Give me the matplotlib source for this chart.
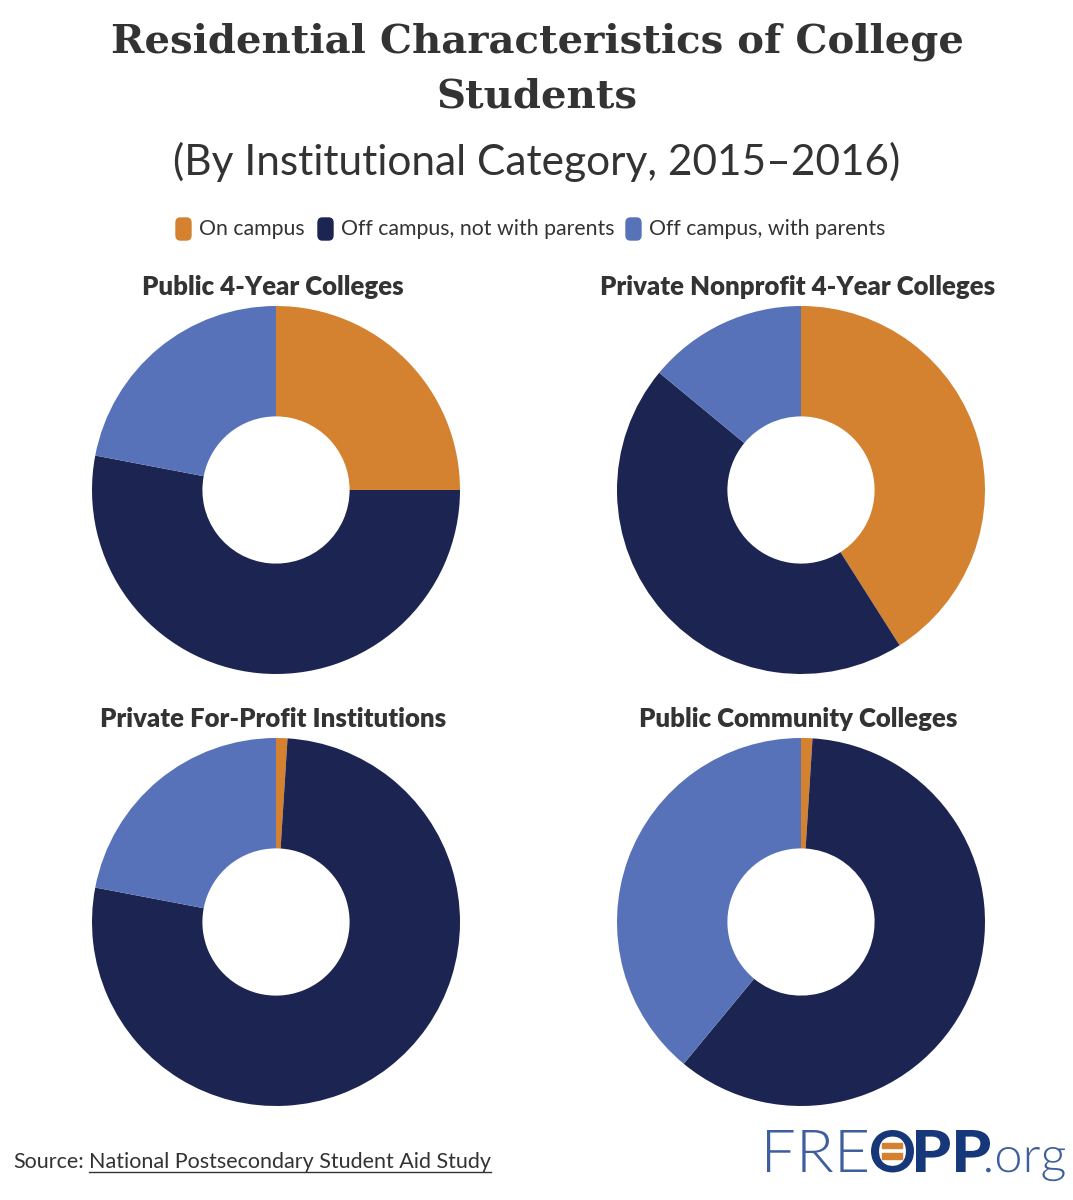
import matplotlib.pyplot as plt
from matplotlib.patches import FancyBboxPatch, PathPatch
from matplotlib.textpath import TextPath
from matplotlib.font_manager import FontProperties
from matplotlib.transforms import Affine2D, IdentityTransform

# data (percent of students)
categories = ['On campus', 'Off campus, not with parents', 'Off campus, with parents']
colors = ['#D4822F', '#1C2551', '#5872BA']
chart_titles = ['Public 4-Year Colleges', 'Private Nonprofit 4-Year Colleges',
                'Private For-Profit Institutions', 'Public Community Colleges']
public_4yr = [25, 53, 22]
private_nonprofit = [41, 45, 14]
private_forprofit = [1, 77, 22]
community = [1, 60, 39]

W, H = 1073, 1200
fig = plt.figure(figsize=(W / 100, H / 100), dpi=100)
txt = '#333333'

def fx(x):
    return x / W

def fy(y):
    return 1 - y / H

fig.text(fx(537), fy(42), 'Residential Characteristics of College', ha='center', va='center',
         fontsize=29, fontweight='bold', family='DejaVu Serif', color=txt)
fig.text(fx(537), fy(96), 'Students', ha='center', va='center',
         fontsize=29, fontweight='bold', family='DejaVu Serif', color=txt)
fig.text(fx(537), fy(162), '(By Institutional Category, 2015\u20132016)', ha='center', va='center',
         fontsize=30.5, family='Lato', color=txt)

# legend
leg_x = [176, 318, 626]
for i, lab in enumerate(categories):
    x0 = leg_x[i]
    fig.patches.append(FancyBboxPatch((fx(x0), fy(240)), fx(15), 22 / H,
                                      boxstyle='round,pad=0,rounding_size=0.004',
                                      transform=fig.transFigure, color=colors[i]))
    fig.text(fx(x0 + 23), fy(229), lab, ha='left', va='center', fontsize=15.3,
             family='Lato', color=txt)

datasets = [public_4yr, private_nonprofit, private_forprofit, community]
centers = [(276, 490), (801, 490), (276, 922), (801, 922)]
r = 184
for vals, (cx, cy), title in zip(datasets, centers, chart_titles):
    ax = fig.add_axes([fx(cx - r), fy(cy + r), fx(2 * r), 2 * r / H])
    ax.pie(vals, colors=colors, startangle=90, counterclock=False,
           wedgeprops=dict(width=0.6, linewidth=0))
    ax.set_xlim(-1, 1)
    ax.set_ylim(-1, 1)
    ax.set_aspect('equal')
    ax.axis('off')
    fig.text(fx(cx - 3), fy(cy - 203), title, ha='center', va='center', fontsize=18.5,
             fontweight='heavy', family='Lato', color=txt)

# source
fig.text(fx(13), fy(1162), 'Source:', ha='left', va='center', fontsize=15.5,
         family='Lato', color=txt)
fig.text(fx(89), fy(1162), 'National Postsecondary Student Aid Study', ha='left',
         va='center', fontsize=15.5, family='Lato', color=txt)
fig.lines.append(plt.Line2D([fx(89), fx(491)], [fy(1172), fy(1172)],
                            transform=fig.transFigure, color=txt, linewidth=1))

# logo, each piece fitted into its box (pixel coords from top-left)
def logo_piece(s, x0, x1, y_base, y_top, weight, color, family='Lato'):
    tp = TextPath((0, 0), s, size=100, prop=FontProperties(family=family, weight=weight))
    bb = tp.get_extents()
    sx = (x1 - x0) / bb.width
    sy = (y_base - y_top) / bb.y1
    tr = Affine2D().translate(-bb.x0, 0).scale(sx, sy).translate(x0, H - y_base)
    fig.patches.append(PathPatch(tr.transform_path(tp), transform=IdentityTransform(),
                                 color=color, lw=0))

logo_blue = '#3F5E9E'
logo_navy = '#16377A'
logo_piece('FRE', 767, 867, 1172, 1130, 300, logo_blue)
logo_piece('O', 871, 914, 1172, 1130, 'bold', logo_navy)
logo_piece('PP', 916, 990, 1172, 1130, 'black', logo_navy)
logo_piece('.org', 986, 1065, 1172, 1147, 300, logo_blue)
fig.patches.append(plt.Rectangle((882, H - 1148), 20, 5, transform=IdentityTransform(),
                                 color='#D4822F'))
fig.patches.append(plt.Rectangle((882, H - 1159), 20, 6, transform=IdentityTransform(),
                                 color='#D4822F'))

fig.savefig('out.png', dpi=100)
